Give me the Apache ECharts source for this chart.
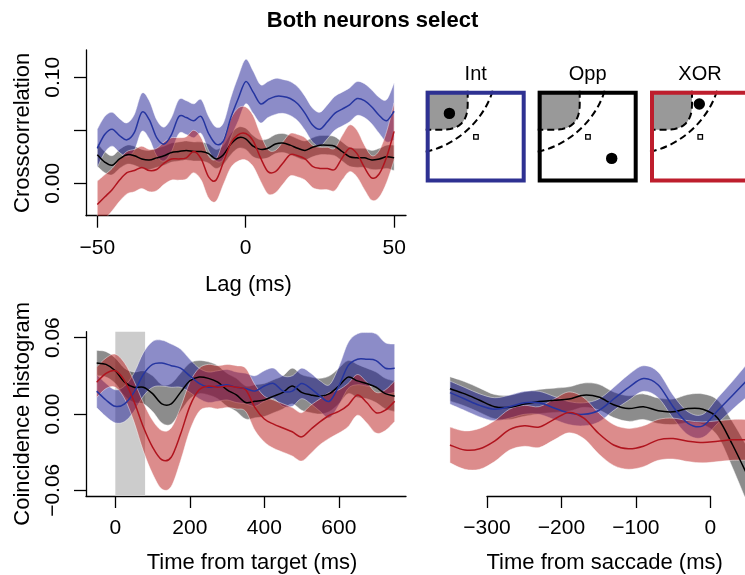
<!DOCTYPE html>
<html>
<head>
<meta charset="utf-8">
<script src="https://cdn.jsdelivr.net/npm/echarts@6/dist/echarts.min.js"></script>
<style>
html, body { margin: 0; padding: 0; background: #fff; }
#main { width: 745px; height: 575px; }
</style>
</head>
<body>
<div id="main"></div>
<script>
// top left: crosscorrelation vs lag
var lagTL = [-50,-47.5,-45,-42.5,-40,-37.5,-35,-32.5,-30,-27.5,-25,-22.5,-20,-17.5,-15,-12.5,-10,-7.5,-5,-2.5,0,
             2.5,5,7.5,10,12.5,15,17.5,20,22.5,25,27.5,30,32.5,35,37.5,40,42.5,45,47.5,50];
var blueTL  = [0.033,0.046,0.051,0.045,0.041,0.048,0.067,0.060,0.043,0.037,0.046,0.063,0.062,0.059,0.063,0.047,0.037,0.040,0.062,0.080,0.096,
               0.086,0.075,0.079,0.082,0.082,0.080,0.075,0.066,0.055,0.051,0.058,0.066,0.070,0.074,0.080,0.078,0.072,0.064,0.059,0.068];
var blackTL = [0.027,0.020,0.017,0.023,0.027,0.026,0.023,0.022,0.024,0.026,0.029,0.030,0.031,0.030,0.030,0.028,0.023,0.027,0.037,0.043,0.042,
               0.035,0.032,0.033,0.037,0.038,0.036,0.033,0.031,0.034,0.036,0.036,0.035,0.030,0.025,0.024,0.024,0.022,0.023,0.025,0.024];
var redTL   = [-0.020,-0.013,-0.006,0.003,0.010,0.012,0.015,0.012,0.013,0.019,0.023,0.023,0.024,0.030,0.023,0.006,0.003,0.020,0.038,0.046,0.047,
               0.040,0.024,0.011,0.011,0.019,0.027,0.026,0.023,0.016,0.014,0.014,0.013,0.024,0.033,0.028,0.015,0.005,0.009,0.025,0.049];
var blueSeTL  = [0.018,0.017,0.016,0.016,0.016,0.017,0.018,0.018,0.017,0.016,0.016,0.016,0.016,0.016,0.016,0.016,0.016,0.017,0.019,0.021,0.021,
                 0.020,0.018,0.017,0.017,0.016,0.016,0.016,0.016,0.016,0.016,0.016,0.016,0.016,0.016,0.016,0.016,0.016,0.017,0.020,0.027];
var blackSeTL = [0.011,0.010,0.009,0.009,0.009,0.009,0.009,0.009,0.009,0.009,0.009,0.009,0.009,0.009,0.009,0.009,0.009,0.009,0.010,0.010,0.010,
                 0.010,0.009,0.009,0.009,0.009,0.009,0.009,0.009,0.009,0.009,0.009,0.009,0.009,0.009,0.009,0.009,0.009,0.010,0.011,0.012];
var redSeTL   = [0.022,0.021,0.020,0.020,0.020,0.020,0.020,0.020,0.020,0.020,0.020,0.020,0.020,0.020,0.020,0.020,0.020,0.021,0.023,0.025,0.025,
                 0.024,0.022,0.021,0.020,0.020,0.020,0.020,0.020,0.020,0.020,0.020,0.020,0.021,0.022,0.022,0.021,0.021,0.022,0.024,0.027];

// bottom left: coincidence histogram vs time from target
var timeBL = [-50,-25,0,25,50,75,100,125,150,175,200,225,250,275,300,325,350,375,400,425,450,475,500,525,550,575,600,625,650,675,700,725,750];
var blackBL = [0.040,0.039,0.034,0.025,0.021,0.021,0.016,0.008,0.008,0.017,0.026,0.029,0.028,0.025,0.019,0.015,0.009,
               0.010,0.011,0.014,0.017,0.022,0.017,0.015,0.014,0.016,0.022,0.029,0.026,0.024,0.021,0.016,0.014];
var blueBL  = [0.018,0.011,0.006,0.008,0.017,0.031,0.039,0.040,0.038,0.036,0.030,0.024,0.021,0.022,0.023,0.021,0.020,
               0.018,0.022,0.024,0.018,0.018,0.024,0.020,0.014,0.010,0.022,0.038,0.043,0.043,0.042,0.036,0.036];
var redBL   = [0.025,0.032,0.034,0.026,0.010,-0.010,-0.026,-0.036,-0.034,-0.016,0.006,0.019,0.022,0.021,0.022,0.021,0.019,
               0.005,-0.004,-0.008,-0.011,-0.014,-0.018,-0.012,-0.006,-0.001,0.002,0.007,0.015,0.009,0.001,0.003,0.010];
var blackSeBL = [0.010,0.010,0.010,0.011,0.012,0.013,0.014,0.015,0.016,0.015,0.014,0.013,0.013,0.013,0.013,0.013,0.013,
                 0.013,0.013,0.013,0.013,0.014,0.014,0.014,0.014,0.014,0.014,0.013,0.013,0.012,0.012,0.012,0.012];
var blueSeBL  = [0.013,0.013,0.013,0.014,0.015,0.017,0.018,0.018,0.017,0.015,0.013,0.012,0.012,0.012,0.012,0.012,0.012,
                 0.012,0.012,0.012,0.012,0.012,0.012,0.012,0.012,0.013,0.015,0.018,0.020,0.021,0.021,0.020,0.019];
var redSeBL   = [0.012,0.012,0.013,0.014,0.016,0.019,0.021,0.023,0.023,0.021,0.019,0.017,0.017,0.017,0.017,0.017,0.017,
                 0.018,0.018,0.019,0.019,0.019,0.019,0.019,0.018,0.018,0.017,0.017,0.016,0.016,0.016,0.016,0.016];
var targetWindow = [0, 80];

// bottom right: coincidence histogram vs time from saccade
var timeBR = [-350,-330,-310,-290,-270,-250,-230,-210,-190,-170,-150,-130,-110,-90,-70,-50,-30,-10,10,30,50];
var blackBR = [0.020,0.016,0.011,0.006,0.0055,0.008,0.010,0.011,0.012,0.015,0.0135,0.0075,0.0045,0.006,0.0028,0.002,0.0045,0.004,-0.003,-0.024,-0.048];
var blueBR  = [0.017,0.012,0.007,0.004,0.006,0.009,0.009,0.005,0.001,0.000,0.003,0.012,0.021,0.028,0.023,0.006,-0.007,-0.009,0.003,0.015,0.027];
var redBR   = [-0.024,-0.028,-0.027,-0.021,-0.012,-0.009,-0.010,-0.004,0.0015,-0.003,-0.015,-0.024,-0.027,-0.025,-0.020,-0.019,-0.021,-0.022,-0.021,-0.020,-0.020];
var blackSeBR = [0.0095,0.0095,0.0095,0.0095,0.0095,0.0095,0.0095,0.0095,0.0095,0.0095,0.010,0.010,0.010,0.010,0.010,0.010,0.011,0.012,0.014,0.018,0.022];
var blueSeBR  = [0.009,0.009,0.009,0.009,0.009,0.009,0.009,0.009,0.009,0.009,0.009,0.009,0.010,0.010,0.010,0.009,0.009,0.009,0.010,0.011,0.013];
var redSeBR   = [0.014,0.015,0.016,0.016,0.016,0.016,0.016,0.016,0.016,0.016,0.016,0.016,0.016,0.016,0.016,0.016,0.016,0.016,0.016,0.016,0.016];

// schematic boxes (Int / Opp / XOR)
var boxNames  = ['Int', 'Opp', 'XOR'];
var boxColors = ['#2E3192', '#000000', '#BE1E2D'];
var boxLeft   = [425.7, 537.7, 650];
var dotPos    = [[23.7, 22.7], [74, 67.7], [49.3, 13.3]];

var FONT = '"Liberation Sans", Arial, Helvetica, sans-serif';
var colBlue = '#2535A0', colRed = '#B0141E', colBlack = '#000000';
var fillBlue = 'rgba(25,25,145,0.5)', fillRed = 'rgba(185,25,25,0.5)', fillBlack = 'rgba(25,25,25,0.5)';

function minus(s) { return String(s).replace('-', '\u2212'); }
function fmt2(v) { return minus(Math.abs(v) < 1e-9 ? '0.00' : v.toFixed(2)); }
function fmt0(v) { return minus(Math.round(v)); }

// smooth cubic segments through pixel points (Catmull-Rom style)
function curve(pts) {
    var s = '';
    for (var i = 0; i < pts.length - 1; i++) {
        var p0 = pts[Math.max(i - 1, 0)], p1 = pts[i], p2 = pts[i + 1], p3 = pts[Math.min(i + 2, pts.length - 1)];
        s += ' C' + (p1[0] + (p2[0] - p0[0]) / 6) + ',' + (p1[1] + (p2[1] - p0[1]) / 6) + ' ' +
             (p2[0] - (p3[0] - p1[0]) / 6) + ',' + (p2[1] - (p3[1] - p1[1]) / 6) + ' ' + p2[0] + ',' + p2[1];
    }
    return s;
}

// confidence band (mean +/- se) as one filled shape
function bandSeries(xs, mean, se, xi, fill) {
    return {
        type: 'custom', xAxisIndex: xi, yAxisIndex: xi, data: [[xs[0], mean[0]]], silent: true, z: 2, clip: true,
        renderItem: function (params, api) {
            var up = [], lo = [];
            for (var i = 0; i < xs.length; i++) {
                up.push(api.coord([xs[i], mean[i] + se[i]]));
                lo.push(api.coord([xs[i], mean[i] - se[i]]));
            }
            lo.reverse();
            var d = 'M' + up[0][0] + ',' + up[0][1] + curve(up) + ' L' + lo[0][0] + ',' + lo[0][1] + curve(lo) + ' Z';
            return { type: 'path', shape: { pathData: d }, style: { fill: fill, stroke: 'rgba(255,255,255,0.45)', lineWidth: 1 } };
        }
    };
}

function meanSeries(xs, ys, xi, color) {
    return {
        type: 'custom', xAxisIndex: xi, yAxisIndex: xi, data: [[xs[0], ys[0]]], silent: true, z: 3, clip: true,
        renderItem: function (params, api) {
            var p = [];
            for (var i = 0; i < xs.length; i++) p.push(api.coord([xs[i], ys[i]]));
            var d = 'M' + p[0][0] + ',' + p[0][1] + curve(p);
            return { type: 'path', shape: { pathData: d }, style: { fill: null, stroke: color, lineWidth: 1.5 } };
        }
    };
}

var axisLineStyle = { show: true, onZero: false, lineStyle: { color: '#000', width: 1.3 } };
var tickStyle = { color: '#000', width: 1.3 };
var tickLabel = { color: '#000', fontSize: 21, fontFamily: FONT };
var nameStyle = { color: '#000', fontSize: 22, fontFamily: FONT };

// points along a quadratic curve, for the rounded field edge
function quadPts(p0, c, p1, n) {
    var pts = [];
    for (var k = 0; k <= n; k++) {
        var t = k / n, u = 1 - t;
        pts.push([u * u * p0[0] + 2 * u * t * c[0] + t * t * p1[0], u * u * p0[1] + 2 * u * t * c[1] + t * t * p1[1]]);
    }
    return pts;
}

function schematic(i) {
    var edge = [[42, 0]].concat(quadPts([42, 14], [42, 39], [17, 39], 12)).concat([[0, 39]]);
    var dash = { fill: 'none', stroke: '#000', lineWidth: 2, lineDash: [7, 4] };
    return {
        type: 'group', x: boxLeft[i], y: 90.7,
        children: [
            { type: 'polygon', shape: { points: [[0, 0]].concat(edge) }, style: { fill: '#999999' } },
            { type: 'polyline', shape: { points: edge }, style: dash },
            { type: 'bezierCurve', shape: { x1: 67, y1: 0, cpx1: 58, cpy1: 30, cpx2: 30, cpy2: 55, x2: 0, y2: 61 }, style: dash },
            { type: 'rect', shape: { x: 48, y: 44, width: 4.5, height: 4.5 },
              style: { fill: '#fff', stroke: '#000', lineWidth: 1.3 } },
            { type: 'circle', shape: { cx: dotPos[i][0], cy: dotPos[i][1], r: 5.7 }, style: { fill: '#000' } },
            { type: 'rect', shape: { x: 2, y: 2, width: 96, height: 87.7 },
              style: { fill: 'none', stroke: boxColors[i], lineWidth: 4 } },
            { type: 'text', x: 50, y: -16.7,
              style: { text: boxNames[i], fontSize: 20, fontFamily: FONT, fill: '#000', align: 'center', verticalAlign: 'middle' } }
        ]
    };
}

var series = [];
// shaded target window behind everything
series.push({
    type: 'line', xAxisIndex: 1, yAxisIndex: 1, data: [], z: 1, silent: true,
    markArea: { silent: true, itemStyle: { color: '#cccccc' }, data: [[{ xAxis: targetWindow[0] }, { xAxis: targetWindow[1] }]] }
});
series.push(
    bandSeries(lagTL, blackTL, blackSeTL, 0, fillBlack),
    bandSeries(lagTL, blueTL, blueSeTL, 0, fillBlue),
    bandSeries(lagTL, redTL, redSeTL, 0, fillRed),
    bandSeries(timeBL, blackBL, blackSeBL, 1, fillBlack),
    bandSeries(timeBL, blueBL, blueSeBL, 1, fillBlue),
    bandSeries(timeBL, redBL, redSeBL, 1, fillRed),
    bandSeries(timeBR, blackBR, blackSeBR, 2, fillBlack),
    bandSeries(timeBR, blueBR, blueSeBR, 2, fillBlue),
    bandSeries(timeBR, redBR, redSeBR, 2, fillRed),
    meanSeries(lagTL, blackTL, 0, colBlack), meanSeries(lagTL, blueTL, 0, colBlue), meanSeries(lagTL, redTL, 0, colRed),
    meanSeries(timeBL, blackBL, 1, colBlack), meanSeries(timeBL, blueBL, 1, colBlue), meanSeries(timeBL, redBL, 1, colRed),
    meanSeries(timeBR, blackBR, 2, colBlack), meanSeries(timeBR, blueBR, 2, colBlue), meanSeries(timeBR, redBR, 2, colRed)
);

var myChart = echarts.init(document.getElementById('main'), null, { renderer: 'canvas' });
var option = {
    animation: false,
    backgroundColor: '#ffffff',
    title: {
        text: 'Both neurons select', left: 'center', top: 10, padding: 0,
        textStyle: { fontSize: 22, fontWeight: 'bold', fontFamily: FONT, color: '#000' }
    },
    grid: [
        { left: 86, top: 50, width: 320, height: 165.7 },
        { left: 86, top: 331.7, width: 320, height: 165 },
        { left: 442.5, top: 331.7, right: 0, height: 165 },
        { left: 487, top: 331.7, width: 223.3, height: 165.7 }
    ],
    xAxis: [
        { gridIndex: 0, type: 'value', min: -53.8, max: 54, axisLine: axisLineStyle, splitLine: { show: false },
          axisTick: { customValues: [-50, 0, 50], length: 12, lineStyle: tickStyle },
          axisLabel: Object.assign({ customValues: [-50, 0, 50], margin: 22, formatter: fmt0 }, tickLabel),
          name: 'Lag (ms)', nameLocation: 'middle', nameGap: 58, nameTextStyle: Object.assign({ padding: [0, 0, 0, 5] }, nameStyle) },
        { gridIndex: 1, type: 'value', min: -78.7, max: 780.4, axisLine: axisLineStyle, splitLine: { show: false },
          axisTick: { customValues: [0, 200, 400, 600], length: 12, lineStyle: tickStyle },
          axisLabel: Object.assign({ customValues: [0, 200, 400, 600], margin: 22, formatter: fmt0 }, tickLabel),
          name: 'Time from target (ms)', nameLocation: 'middle', nameGap: 56, nameTextStyle: Object.assign({ padding: [0, 0, 0, 12] }, nameStyle) },
        { gridIndex: 2, type: 'value', min: -360, max: 46.6, show: false },
        { gridIndex: 3, type: 'value', min: -300, max: 0, interval: 100, axisLine: axisLineStyle, splitLine: { show: false },
          axisTick: { length: 12, lineStyle: tickStyle },
          axisLabel: Object.assign({ margin: 22, formatter: fmt0 }, tickLabel),
          name: 'Time from saccade (ms)', nameLocation: 'middle', nameGap: 56, nameTextStyle: Object.assign({ padding: [0, 0, 0, 12] }, nameStyle) }
    ],
    yAxis: [
        { gridIndex: 0, type: 'value', min: -0.0306, max: 0.1258, axisLine: axisLineStyle, splitLine: { show: false },
          axisTick: { customValues: [0, 0.05, 0.1], length: 12, lineStyle: tickStyle },
          axisLabel: Object.assign({ customValues: [0, 0.1], rotate: 90, margin: 22, formatter: fmt2 }, tickLabel),
          name: 'Crosscorrelation', nameLocation: 'middle', nameRotate: 90, nameGap: 52, nameTextStyle: nameStyle },
        { gridIndex: 1, type: 'value', min: -0.0645, max: 0.0647, axisLine: axisLineStyle, splitLine: { show: false },
          axisTick: { customValues: [-0.06, 0, 0.06], length: 12, lineStyle: tickStyle },
          axisLabel: Object.assign({ customValues: [-0.06, 0, 0.06], rotate: 90, margin: 22, formatter: fmt2 }, tickLabel),
          name: 'Coincidence histogram', nameLocation: 'middle', nameRotate: 90, nameGap: 52, nameTextStyle: nameStyle },
        { gridIndex: 2, type: 'value', min: -0.0645, max: 0.0647, show: false },
        { gridIndex: 3, type: 'value', min: 0, max: 1, show: false }
    ],
    graphic: [schematic(0), schematic(1), schematic(2)],
    series: series
};
myChart.setOption(option);
</script>
</body>
</html>
